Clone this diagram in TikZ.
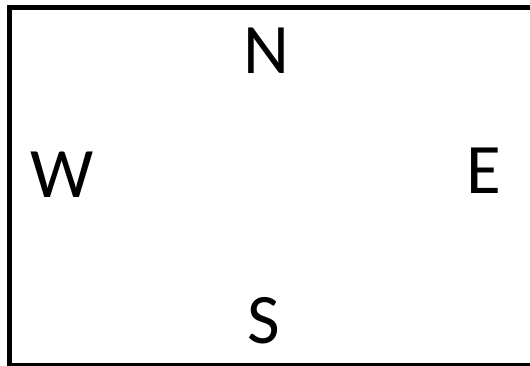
\documentclass[tikz,border=0pt]{standalone}
\usepackage{fontspec}
\setmainfont{Carlito}
\usepackage{tikz}
\tikzset{>=latex}
\tikzset{compass/.style={inner sep=0pt, font=\fontsize{71}{71}\selectfont}}

\begin{document}
\begin{tikzpicture}[x=1pt, y=-1pt]
    \useasboundingbox(0, 0) rectangle (530, 366);
    \clip(0, 0) rectangle (530, 366);
    \draw[line width=5pt](9.5, 7.5) rectangle (533, 365.5);
    \node[compass](n) at (266, 51) {N};
    \node[compass](w) at (62, 175) {W};
    \node[compass](e) at (484, 171) {E};
    \node[compass](s) at (264, 321) {S};
\end{tikzpicture}
\end{document}
